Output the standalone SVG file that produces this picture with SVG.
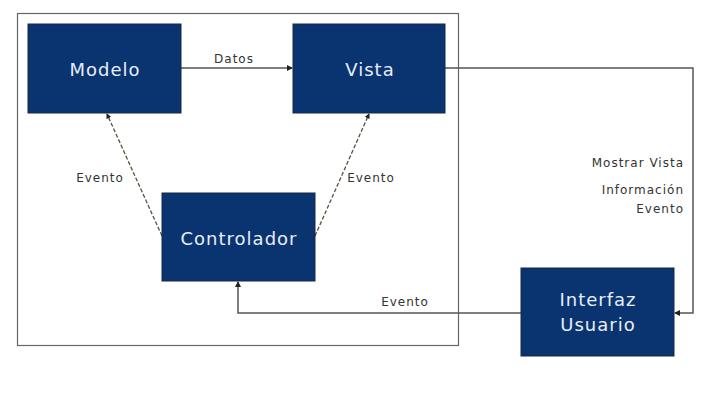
<svg xmlns="http://www.w3.org/2000/svg" width="709" height="409" viewBox="0 0 709 409">
  <style>
    .box { fill: #0a3470; stroke: #16264a; stroke-width: 1; }
    .btxt { font-family: "DejaVu Sans", "Liberation Sans", sans-serif; font-size: 18px; letter-spacing: 1px; fill: #e8eef8; text-anchor: middle; }
    .lbl { font-family: "DejaVu Sans", "Liberation Sans", sans-serif; font-size: 12px; letter-spacing: 1px; fill: #333; }
    .line { fill: none; stroke: #555; stroke-width: 1.5; }
    .dash { fill: none; stroke: #5a5040; stroke-width: 1.3; stroke-dasharray: 4 2; }
  </style>
  <defs>
    <marker id="arrow" viewBox="0 0 6 6" refX="5" refY="3" markerWidth="4" markerHeight="4" orient="auto">
      <path d="M0,0 L6,3 L0,6 z" fill="#222"/>
    </marker>
  </defs>
  <rect width="709" height="409" fill="#ffffff"/>
  <!-- system boundary -->
  <rect x="17.5" y="13.5" width="441" height="332" fill="none" stroke="#666" stroke-width="1.2"/>

  <g id="connectors">
    <path class="line" d="M181,68 H292" marker-end="url(#arrow)"/>
    <path class="line" d="M445,68 H693 V313 H675" marker-end="url(#arrow)"/>
    <path class="line" d="M521,313 H238 V282" marker-end="url(#arrow)"/>
    <path class="dash" d="M162,236 L107,114" marker-end="url(#arrow)"/>
    <path class="dash" d="M315,236 L369,114" marker-end="url(#arrow)"/>
  </g>

  <g id="labels">
    <text class="lbl" x="234" y="63" text-anchor="middle">Datos</text>
    <text class="lbl" x="100" y="182" text-anchor="middle">Evento</text>
    <text class="lbl" x="371" y="182" text-anchor="middle">Evento</text>
    <text class="lbl" x="405" y="306" text-anchor="middle">Evento</text>
    <text class="lbl" x="684" y="167" text-anchor="end">Mostrar Vista</text>
    <text class="lbl" x="684" y="194" text-anchor="end">Información</text>
    <text class="lbl" x="684" y="213" text-anchor="end">Evento</text>
  </g>

  <g id="modelo">
    <rect class="box" x="28" y="24" width="153" height="89"/>
    <text class="btxt" x="105" y="76">Modelo</text>
  </g>
  <g id="vista">
    <rect class="box" x="293" y="24" width="152" height="89"/>
    <text class="btxt" x="370" y="76">Vista</text>
  </g>
  <g id="controlador">
    <rect class="box" x="162" y="193" width="153" height="88"/>
    <text class="btxt" x="239" y="245">Controlador</text>
  </g>
  <g id="interfaz">
    <rect class="box" x="521" y="268" width="153" height="88"/>
    <text class="btxt" x="598" y="306">Interfaz</text>
    <text class="btxt" x="598" y="331">Usuario</text>
  </g>
</svg>
